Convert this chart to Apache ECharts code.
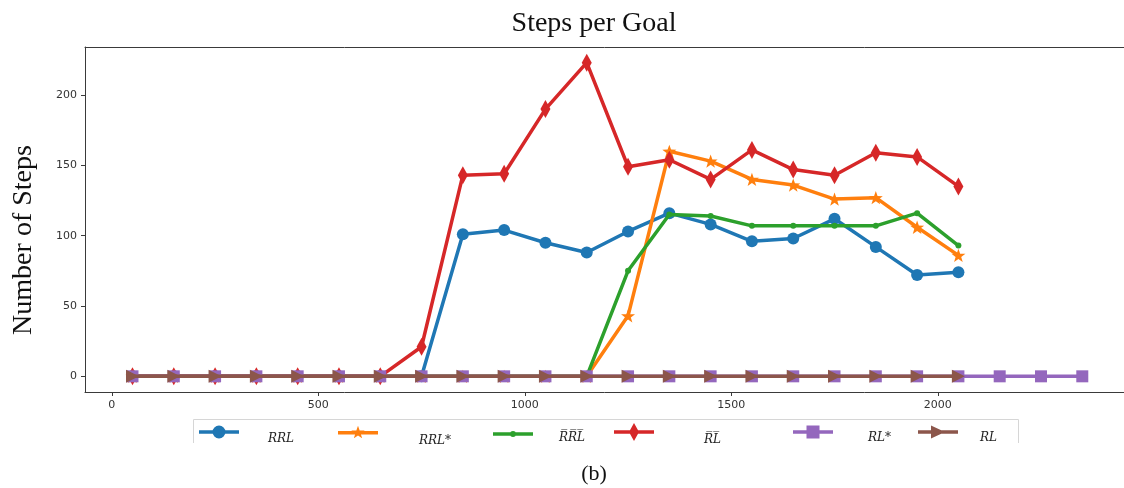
<!DOCTYPE html>
<html>
<head>
<meta charset="utf-8">
<title>Steps per Goal</title>
<script src="https://cdn.jsdelivr.net/npm/echarts@6/dist/echarts.min.js"></script>
<style>
  html, body { margin: 0; padding: 0; background: #ffffff; }
  #chart { width: 1124px; height: 488px; }
</style>
</head>
<body>
<div id="chart"></div>
<script>
// Episode checkpoints (x) and average steps needed to reach the goal (y)
const episodes = [50, 150, 250, 350, 450, 550, 650, 750, 850, 950, 1050, 1150,
                  1250, 1350, 1450, 1550, 1650, 1750, 1850, 1950, 2050, 2150, 2250, 2350];
const rrl     = [0, 0, 0, 0, 0, 0, 0, 0, 101, 104, 95, 88, 103, 116, 108, 96, 98, 112, 92, 72, 74];
const rrlStar = [0, 0, 0, 0, 0, 0, 0, 0, 0, 0, 0, 0, 43, 160, 153, 140, 136, 126, 127, 106, 86];
const rrlBar  = [0, 0, 0, 0, 0, 0, 0, 0, 0, 0, 0, 0, 75, 115, 114, 107, 107, 107, 107, 116, 93];
const rlBar   = [0, 0, 0, 0, 0, 0, 0, 21, 143, 144, 190, 223, 149, 154, 140, 161, 147, 143, 159, 156, 135];
const rlStar  = [0, 0, 0, 0, 0, 0, 0, 0, 0, 0, 0, 0, 0, 0, 0, 0, 0, 0, 0, 0, 0, 0, 0, 0];
const rl      = [0, 0, 0, 0, 0, 0, 0, 0, 0, 0, 0, 0, 0, 0, 0, 0, 0, 0, 0, 0, 0];

const xTicks = [0, 500, 1000, 1500, 2000];
const yTicks = [0, 50, 100, 150, 200];

// Series names as shown in the legend (U+0305 draws the overline)
const names = ['RRL', 'RRL*', 'R\u0305R\u0305L\u0305', 'R\u0305L\u0305', 'RL*', 'RL'];

const colors = ['#1f77b4', '#ff7f0e', '#2ca02c', '#d62728', '#9467bd', '#8c564b'];

// ---------- marker shapes ----------
function starPath(cx, cy, R, r) {
  let d = '';
  for (let k = 0; k < 10; k++) {
    const a = -Math.PI / 2 + k * Math.PI / 5;
    const rad = k % 2 ? r : R;
    d += (k ? 'L' : 'M') + (cx + rad * Math.cos(a)).toFixed(2) + ',' + (cy + rad * Math.sin(a)).toFixed(2);
  }
  return d + 'Z';
}
const STAR = starPath(7, 7, 7, 2.8);
const TRI_RIGHT = 'M0,0L13,6.5L0,13Z';

// Legend icons: a 40px wide line segment with the marker in its middle
function lineBar(cy) {
  const t = 1.75;
  return 'M0,' + (cy - t) + 'H40V' + (cy + t) + 'H0Z';
}
const icons = [
  { h: 13, path: lineBar(6.5) + 'M13.5,6.5A6.5,6.5 0 1,1 26.5,6.5A6.5,6.5 0 1,1 13.5,6.5Z' },
  { h: 12.66, path: lineBar(7) + starPath(20, 7, 7, 2.8) },
  { h: 6, path: lineBar(3) + 'M17,3A3,3 0 1,1 23,3A3,3 0 1,1 17,3Z' },
  { h: 18, path: lineBar(9) + 'M20,0L25,9L20,18L15,9Z' },
  { h: 13, path: lineBar(6.5) + 'M13.5,0H26.5V13H13.5Z' },
  { h: 13, path: lineBar(6.5) + 'M13,0L27,6.5L13,13Z' }
];

// Legend item placement: icon left, label offset to the right, label drop below the icon
const legendLeft = [199, 338, 493, 614, 793, 918];
const labelGap   = [24, 36, 21, 45, 30, 17];
const labelDrop  = [7, 9, 4, 8, 6, 6];
const ICON_CY = 432;

function pairs(ys) {
  return ys.map((y, i) => [episodes[i], y]);
}

function lineSeries(i, ys, symbol, size, extra) {
  return Object.assign({
    name: names[i],
    type: 'line',
    data: pairs(ys),
    symbol: symbol,
    symbolSize: size,
    showAllSymbol: true,
    lineStyle: { color: colors[i], width: 3.5 },
    itemStyle: { color: colors[i], borderWidth: 0 },
    emphasis: { disabled: true },
    z: 2 + i,
    animation: false
  }, extra || {});
}

// One legend per series; the label sits on the second of two lines so it drops below the icon
const legends = names.map((n, i) => {
  const L = 2 * labelDrop[i];
  const h = icons[i].h;
  return {
    data: [{ name: n, icon: 'path://' + icons[i].path }],
    left: legendLeft[i],
    top: ICON_CY - Math.max(h / 2, L),
    padding: 0,
    itemWidth: 40,
    itemHeight: h,
    selectedMode: false,
    itemStyle: { borderWidth: 0 },
    formatter: name => '\n' + name,
    textStyle: {
      fontFamily: 'DejaVu Serif',
      fontStyle: 'italic',
      fontSize: 12,
      lineHeight: L,
      color: '#222',
      padding: [0, 0, 0, labelGap[i]]
    }
  };
});

const axisColor = '#3a3a3a';
const tickFont = { fontFamily: 'DejaVu Sans', fontSize: 11, color: '#333' };

const chart = echarts.init(document.getElementById('chart'), null, { renderer: 'canvas' });

chart.setOption({
  animation: false,
  backgroundColor: '#ffffff',
  grid: { left: 85, top: 47, right: 0, bottom: 96, show: false },
  xAxis: [
    {
      type: 'value',
      min: -65, max: 2451,
      splitLine: { show: false },
      axisLine: { onZero: false, lineStyle: { color: axisColor, width: 1 } },
      axisTick: { show: true, length: 4, lineStyle: { color: axisColor }, customValues: xTicks },
      axisLabel: Object.assign({ customValues: xTicks, margin: 8, formatter: v => String(v) }, tickFont)
    },
    {
      // top frame line
      type: 'value', position: 'top',
      min: -65, max: 2451,
      splitLine: { show: false },
      axisLine: { show: true, onZero: false, lineStyle: { color: axisColor, width: 1 } },
      axisTick: { show: false },
      axisLabel: { show: false }
    }
  ],
  yAxis: {
    type: 'value',
    min: -11.15, max: 234.15,
    splitLine: { show: false },
    axisLine: { show: true, onZero: false, lineStyle: { color: axisColor, width: 1 } },
    axisTick: { show: true, length: 4, lineStyle: { color: axisColor }, customValues: yTicks },
    axisLabel: Object.assign({ customValues: yTicks, margin: 8, formatter: v => String(v) }, tickFont)
  },
  legend: legends,
  graphic: [
    {
      type: 'text',
      x: 594, y: 24,
      style: { text: 'Steps per Goal', font: '28px "Liberation Serif"', fill: '#111', align: 'center', verticalAlign: 'middle' }
    },
    {
      type: 'text',
      x: 23.5, y: 240, rotation: Math.PI / 2,
      style: { text: 'Number of Steps', font: '28px "Liberation Serif"', fill: '#111', align: 'center', verticalAlign: 'middle' }
    },
    {
      type: 'text',
      x: 594, y: 474,
      style: { text: '(b)', font: '22px "Liberation Serif"', fill: '#111', align: 'center', verticalAlign: 'middle' }
    },
    {
      type: 'polyline', z: -1,
      shape: { points: [[193.5, 443], [193.5, 419.5], [1018.5, 419.5], [1018.5, 443]] },
      style: { stroke: '#d6d6d6', lineWidth: 1, fill: null }
    }
  ],
  series: [
    lineSeries(0, rrl, 'circle', 12),
    lineSeries(1, rrlStar, 'path://' + STAR, 14, { symbolKeepAspect: true }),
    lineSeries(2, rrlBar, 'circle', 6),
    lineSeries(3, rlBar, 'diamond', [10, 18]),
    lineSeries(4, rlStar, 'rect', 12),
    lineSeries(5, rl, 'path://' + TRI_RIGHT, 13)
  ]
});
</script>
</body>
</html>
